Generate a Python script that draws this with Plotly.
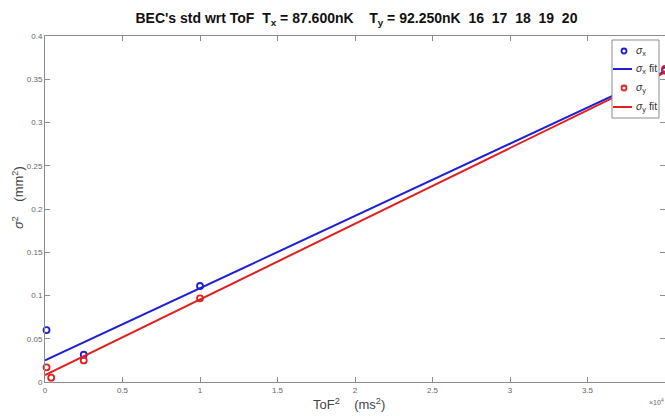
import plotly.graph_objects as go

# ToF^2 in ms^2
tof_sq_x = [100, 2500, 10000, 40000]
sigma_x_sq = [0.060, 0.0315, 0.111, 0.360]
tof_sq_y = [100, 400, 2500, 10000, 40000]
sigma_y_sq = [0.017, 0.005, 0.025, 0.0967, 0.362]

fit_x = [0, 40000]
fit_sigma_x = [0.025, 0.359]
fit_sigma_y = [0.008, 0.358]

x_ticks = [0, 5000, 10000, 15000, 20000, 25000, 30000, 35000, 40000]
x_ticktext = ["0", "0.5", "1", "1.5", "2", "2.5", "3", "3.5", "4"]
y_ticks = [0, 0.05, 0.1, 0.15, 0.2, 0.25, 0.3, 0.35, 0.4]
y_ticktext = ["0", "0.05", "0.1", "0.15", "0.2", "0.25", "0.3", "0.35", "0.4"]

legend_labels = ["<i>σ</i><sub>x</sub>", "<i>σ</i><sub>x</sub> fit", "<i>σ</i><sub>y</sub>", "<i>σ</i><sub>y</sub> fit"]

BLUE = "#1f1fd6"
RED = "#e21f1f"
FONT = "Liberation Sans, Arial, sans-serif"
W, H = 665, 416
L, R, T, B = 45, 0, 36, 34
PW, PH = W - L - R, H - T - B


def px(xp):
    return (xp - L) / PW


def py(yp):
    return (H - B - yp) / PH


fig = go.Figure()
fig.add_trace(go.Scatter(x=tof_sq_x, y=sigma_x_sq, mode="markers", name=legend_labels[0],
                         marker=dict(symbol="circle-open", size=6, color=BLUE, line=dict(width=1.8)),
                         cliponaxis=False))
fig.add_trace(go.Scatter(x=fit_x, y=fit_sigma_x, mode="lines", name=legend_labels[1],
                         line=dict(color=BLUE, width=2)))
fig.add_trace(go.Scatter(x=tof_sq_y, y=sigma_y_sq, mode="markers", name=legend_labels[2],
                         marker=dict(symbol="circle-open", size=6, color=RED, line=dict(width=1.8)),
                         cliponaxis=False))
fig.add_trace(go.Scatter(x=fit_x, y=fit_sigma_y, mode="lines", name=legend_labels[3],
                         line=dict(color=RED, width=2)))

axis_common = dict(showgrid=False, zeroline=False, showline=True, linecolor="#8c8c8c", linewidth=1,
                   mirror="ticks", ticks="inside", ticklen=5, tickcolor="#8c8c8c", automargin=False,
                   tickfont=dict(family=FONT, size=8, color="#666666"))

fig.update_layout(
    width=W, height=H,
    margin=dict(l=L, r=R, t=T, b=B, autoexpand=False),
    paper_bgcolor="white", plot_bgcolor="white",
    title=dict(text="<b>BEC's std wrt ToF  T<sub>x</sub> = 87.600nK    T<sub>y</sub> = 92.250nK  16  17  18  19  20</b>",
               x=0.536, xanchor="center", y=0.957, yanchor="middle",
               font=dict(family=FONT, size=14, color="#111111")),
    xaxis=dict(range=[0, 40000], tickvals=x_ticks, ticktext=x_ticktext, **axis_common),
    yaxis=dict(range=[0, 0.4], tickvals=y_ticks, ticktext=y_ticktext, **axis_common),
    showlegend=False,
)

# axis titles
fig.add_annotation(text="ToF<sup>2</sup>    (ms<sup>2</sup>)", xref="paper", yref="paper",
                   x=px(349), y=py(404), xanchor="center", yanchor="middle", showarrow=False,
                   font=dict(family=FONT, size=13, color="#444444"))
fig.add_annotation(text="<i>σ</i><sup>2</sup>    (mm<sup>2</sup>)", xref="paper", yref="paper",
                   x=px(18), y=py(198), xanchor="center", yanchor="middle", showarrow=False,
                   textangle=-90, font=dict(family=FONT, size=13, color="#444444"))
fig.add_annotation(text="×10<sup>4</sup>", xref="paper", yref="paper", x=px(666), y=py(402),
                   xanchor="right", yanchor="middle", showarrow=False,
                   font=dict(family=FONT, size=7, color="#666666"))

# legend box (drawn manually to match the compact original)
fig.add_shape(type="rect", xref="paper", yref="paper", x0=px(612), x1=px(659), y0=py(118), y1=py(40),
              fillcolor="white", line=dict(color="#8c8c8c", width=1), layer="above")
item_y = [51, 69, 88, 107]
item_col = [BLUE, BLUE, RED, RED]
item_kind = ["marker", "line", "marker", "line"]
for lab, yy, col, kind in zip(legend_labels, item_y, item_col, item_kind):
    if kind == "marker":
        fig.add_shape(type="circle", xref="paper", yref="paper", x0=px(621.5), x1=px(626.5),
                      y0=py(yy + 2.5), y1=py(yy - 2.5), line=dict(color=col, width=1.8), layer="above")
    else:
        fig.add_shape(type="line", xref="paper", yref="paper", x0=px(613), x1=px(632),
                      y0=py(yy), y1=py(yy), line=dict(color=col, width=2), layer="above")
    fig.add_annotation(text=lab, xref="paper", yref="paper", x=px(634), y=py(yy), xanchor="left",
                       yanchor="middle", showarrow=False,
                       font=dict(family=FONT, size=10.5, color="#333333"))

fig.write_html("out.html", config={"displayModeBar": False},
               post_script="document.body.style.margin='0';")
